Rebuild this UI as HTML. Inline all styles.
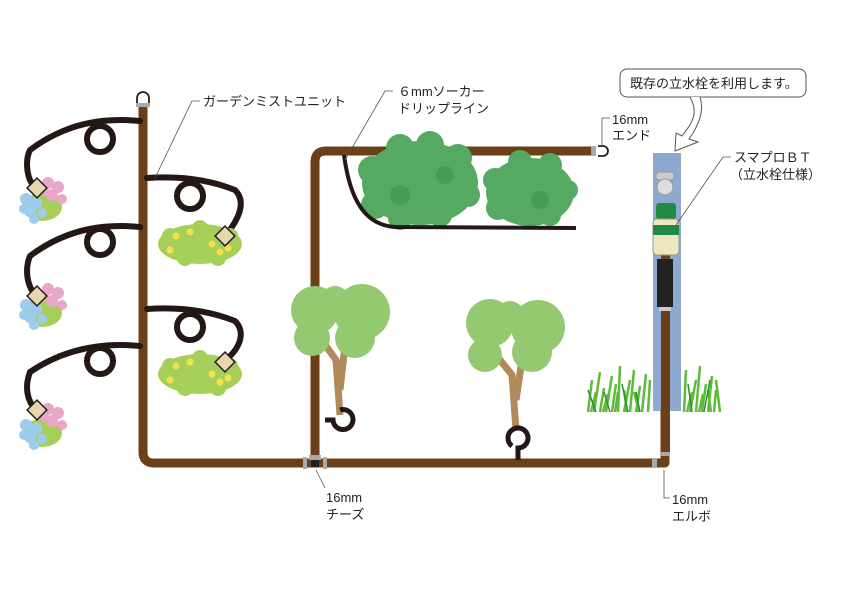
<!DOCTYPE html>
<html><head><meta charset="utf-8"><style>
body{margin:0;background:#fff;}
svg{display:block;}
text{font-family:"Liberation Sans","Noto Sans CJK JP",sans-serif;font-size:13px;fill:#222;}
</style></head><body>
<svg width="842" height="596" viewBox="0 0 842 596" xmlns="http://www.w3.org/2000/svg">
<defs>
<g id="flowers">
 <ellipse cx="22" cy="30" rx="20" ry="14" fill="#a6cf5a"/>
 <g fill="#e9a6c8"><circle cx="28" cy="6" r="6"/><circle cx="38" cy="10" r="6"/><circle cx="32" cy="18" r="6"/><circle cx="42" cy="22" r="5"/><circle cx="24" cy="14" r="5"/></g>
 <g fill="#9dccec"><circle cx="6" cy="22" r="6"/><circle cx="16" cy="26" r="6"/><circle cx="10" cy="34" r="6"/><circle cx="22" cy="36" r="5"/><circle cx="4" cy="32" r="5"/><circle cx="14" cy="42" r="5"/></g>
</g>
<g id="ybush">
 <ellipse cx="40" cy="22" rx="42" ry="20" fill="#a6cf5a"/>
 <g fill="#a6cf5a"><circle cx="10" cy="14" r="8"/><circle cx="70" cy="14" r="8"/><circle cx="40" cy="6" r="8"/><circle cx="25" cy="36" r="8"/><circle cx="58" cy="36" r="8"/></g>
 <g fill="#f2e34c"><circle cx="16" cy="14" r="3.5"/><circle cx="30" cy="10" r="3.5"/><circle cx="10" cy="28" r="3.5"/><circle cx="52" cy="22" r="3.5"/><circle cx="60" cy="30" r="3.5"/><circle cx="68" cy="26" r="3.5"/></g>
</g>
<g id="diam"><rect x="-7" y="-7" width="14" height="14" fill="#e8d7ad" stroke="#222" stroke-width="1.5" transform="rotate(45)"/></g>
</defs>

<!-- speech bubble -->
<rect x="620" y="69" width="186" height="28" rx="7" fill="#fff" stroke="#555" stroke-width="1"/>
<text x="630" y="88">既存の立水栓を利用します。</text>
<path d="M690 97 C700 115 690 125 682 136 L676 133 L675 151 L698 142 L689 139 C697 128 705 112 700 97" fill="#fff" stroke="#555"/>

<!-- tap post -->
<rect x="653" y="153" width="28" height="258" fill="#8ea9cf"/>
<rect x="661" y="255" width="9" height="200" fill="#6b3f17"/>
<rect x="656" y="172" width="18" height="8" rx="3" fill="#ccc" stroke="#999"/>
<circle cx="665" cy="187" r="8" fill="#ddd" stroke="#999"/>
<rect x="656" y="203" width="20" height="16" rx="3" fill="#1f8a45"/>
<rect x="653" y="219" width="26" height="36" rx="4" fill="#efe6c0" stroke="#998"/>
<rect x="653" y="225" width="26" height="10" fill="#1f8a45"/>
<rect x="657" y="259" width="16" height="48" fill="#222"/>
<rect x="659" y="307" width="12" height="4" fill="#ccc"/>

<!-- grass -->
<g stroke="#5cbb3a" stroke-width="2.5" fill="none">
<path d="M588 412 L592 380 M594 412 L600 372 M600 412 L604 388 M606 412 L612 376 M612 412 L616 384 M618 412 L620 366 M624 412 L630 380 M630 412 L634 370 M636 412 L640 386 M642 412 L646 374 M648 412 L650 380 M591 412 L596 392 M603 412 L608 394 M615 412 L618 392 M627 412 L624 390 M639 412 L634 392"/>
<path d="M684 412 L686 370 M690 412 L696 380 M696 412 L700 366 M702 412 L706 384 M708 412 L712 376 M714 412 L716 390 M720 412 L716 380 M687 412 L692 392 M699 412 L703 394 M711 412 L708 390"/>
</g>
<g stroke="#2f8f2f" stroke-width="1.5" fill="none"><path d="M596 412 L588 390 M610 412 L604 392 M628 412 L622 384 M640 412 L636 392 M692 412 L688 384 M704 412 L710 380"/></g>

<!-- pipes -->
<g stroke="#6b3f17" stroke-width="9" fill="none" stroke-linejoin="round">
<path d="M143 104 L143 452 Q143 463 154 463 L665 463 L665 410"/>
<path d="M315 463 L315 162 Q315 151 326 151 L595 151"/>
</g>
<path d="M137 104 L137 98 A6 6 0 0 1 149 98 L149 104" fill="#fff" stroke="#222" stroke-width="1.8"/>
<rect x="136" y="103" width="14" height="4" fill="#aaa"/>
<path d="M598 146 L603 146 A5 5 0 0 1 603 156 L598 156" fill="#fff" stroke="#222" stroke-width="1.8"/>
<rect x="591" y="146" width="5" height="10" fill="#aaa"/>
<rect x="303" y="457" width="4" height="12" fill="#aaa"/><rect x="323" y="457" width="4" height="12" fill="#aaa"/>
<rect x="309" y="455" width="12" height="5" fill="#aaa"/><rect x="311" y="460" width="8" height="7" fill="#222"/>
<rect x="652" y="458" width="5" height="10" fill="#aaa"/><rect x="660" y="452" width="10" height="4" fill="#aaa"/>

<!-- mist unit lines -->
<g stroke="#231815" stroke-width="6" fill="none" stroke-linecap="round">
<path d="M140 121 C110 118 70 120 30 150 C25 160 26 180 36 188"/>
<circle cx="100" cy="139" r="13"/>
<path d="M140 227 C110 224 70 226 30 256 C25 268 26 285 36 296"/>
<circle cx="100" cy="242" r="13"/>
<path d="M140 346 C110 343 70 345 30 372 C25 385 26 400 36 410"/>
<circle cx="100" cy="361" r="13"/>
<path d="M147 178 C175 176 205 178 235 190 C245 200 242 215 226 235"/>
<circle cx="190" cy="196" r="13"/>
<path d="M147 309 C175 307 205 309 235 321 C245 331 242 346 226 360"/>
<circle cx="190" cy="327" r="13"/>
</g>
<use href="#flowers" x="20" y="177"/>
<use href="#flowers" x="20" y="283"/>
<use href="#flowers" x="20" y="403"/>
<use href="#ybush" x="160" y="222"/>
<use href="#ybush" x="160" y="352"/>
<use href="#diam" x="37" y="188"/>
<use href="#diam" x="37" y="296"/>
<use href="#diam" x="37" y="410"/>
<use href="#diam" x="225" y="236"/>
<use href="#diam" x="225" y="362"/>

<!-- bushes -->
<g fill="#55a962">
<ellipse cx="420" cy="183" rx="58" ry="42"/>
<circle cx="372" cy="170" r="14"/><circle cx="375" cy="205" r="14"/><circle cx="400" cy="148" r="14"/><circle cx="430" cy="145" r="14"/><circle cx="458" cy="158" r="14"/><circle cx="468" cy="195" r="12"/><circle cx="440" cy="215" r="12"/><circle cx="400" cy="218" r="12"/>
<ellipse cx="530" cy="192" rx="44" ry="34"/>
<circle cx="495" cy="180" r="12"/><circle cx="498" cy="208" r="12"/><circle cx="520" cy="162" r="12"/><circle cx="550" cy="165" r="12"/><circle cx="568" cy="190" r="10"/><circle cx="550" cy="215" r="11"/>
</g>
<g fill="#4a9a57"><circle cx="400" cy="195" r="10"/><circle cx="445" cy="175" r="9"/><circle cx="540" cy="200" r="9"/></g>
<path d="M344 155 C350 200 365 225 395 227 L576 228" stroke="#231815" stroke-width="4" fill="none"/>

<!-- trees -->
<path d="M340 415 L336 360 L318 335 M340 390 L345 345 L365 325" stroke="#b08a5a" stroke-width="7" fill="none"/>
<g fill="#94c972"><circle cx="315" cy="310" r="24"/><circle cx="362" cy="312" r="28"/><circle cx="312" cy="338" r="18"/><circle cx="355" cy="338" r="20"/><circle cx="335" cy="300" r="14"/></g>
<path d="M325 420 L333 420 A10 10 0 1 0 340 410" stroke="#231815" stroke-width="5" fill="none"/>
<path d="M516 430 L512 375 L492 350 M516 400 L522 360 L540 345" stroke="#b08a5a" stroke-width="7" fill="none"/>
<g fill="#94c972"><circle cx="490" cy="323" r="24"/><circle cx="538" cy="327" r="27"/><circle cx="485" cy="355" r="17"/><circle cx="532" cy="352" r="20"/><circle cx="510" cy="315" r="14"/></g>
<path d="M518 460 L518 448 A10 10 0 1 0 512 446" stroke="#231815" stroke-width="5" fill="none"/>

<!-- labels & leaders -->
<g stroke="#555" stroke-width="0.8" fill="none">
<path d="M155 178 L192 101 L200 101"/>
<path d="M345 160 L385 91 L393 91"/>
<path d="M602 146 L602 118 L610 118"/>
<path d="M676 225 L723 157 L731 157"/>
<path d="M316 470 L325 488"/>
<path d="M664 470 L664 498 L670 498"/>
</g>
<text x="203" y="106">ガーデンミストユニット</text>
<text x="398" y="96">６mmソーカー</text>
<text x="398" y="113">ドリップライン</text>
<text x="612" y="124">16mm</text>
<text x="612" y="140">エンド</text>
<text x="734" y="162">スマプロＢＴ</text>
<text x="730" y="179">（立水栓仕様）</text>
<text x="326" y="502">16mm</text>
<text x="326" y="519">チーズ</text>
<text x="672" y="504">16mm</text>
<text x="672" y="521">エルボ</text>
</svg>
</body></html>
